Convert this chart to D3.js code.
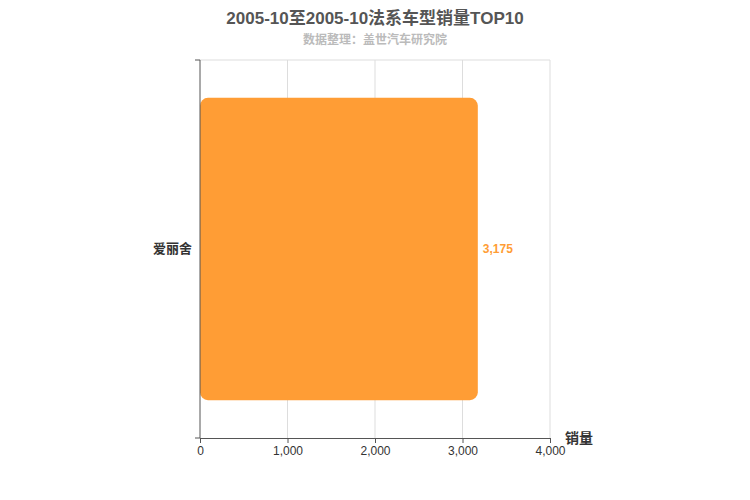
<!DOCTYPE html>
<html><head><meta charset="utf-8">
<script src="https://cdn.jsdelivr.net/npm/d3@7/dist/d3.min.js"></script>
<style>body{margin:0;background:#fff}text{font-family:Arial,"Liberation Sans","Noto Sans CJK SC",sans-serif}</style>
</head><body><svg id="c" width="750" height="500"></svg>
<script>
const categories = ["爱丽舍"];
const values = [3175];
const xTicks = [0, 1000, 2000, 3000, 4000];
const svg = d3.select("#c");
const L=200,R=550,T=60,B=438;
const x=d3.scaleLinear().domain([0,4000]).range([L,R]);
const y=d3.scaleBand().domain(categories).range([T,B]).paddingInner(0.2).paddingOuter(0.1);
svg.append("text").attr("x",375).attr("y",24).attr("text-anchor","middle").attr("font-size",17).attr("font-weight","bold").attr("fill","#555").text("2005-10至2005-10法系车型销量TOP10");
svg.append("text").attr("x",375).attr("y",44).attr("text-anchor","middle").attr("font-size",12).attr("font-weight","bold").attr("fill","#bbb").text("数据整理：盖世汽车研究院");
const g=svg.append("g");
xTicks.forEach(t=>{ if(t>0) g.append("line").attr("x1",x(t)).attr("x2",x(t)).attr("y1",T).attr("y2",B).attr("stroke","#ddd");});
g.append("line").attr("x1",L).attr("x2",R).attr("y1",T).attr("y2",T).attr("stroke","#ddd");
svg.selectAll("rect.b").data(values).join("rect").attr("class","b")
 .attr("x",x(0)).attr("y",(d,i)=>y(categories[i])).attr("width",d=>x(d)-x(0)).attr("height",y.bandwidth())
 .attr("rx",8).attr("fill","#ff9d35");
svg.selectAll("text.v").data(values).join("text").attr("class","v")
 .attr("x",d=>x(d)+5).attr("y",(d,i)=>y(categories[i])+y.bandwidth()/2+4)
 .attr("font-size",12).attr("font-weight","bold").attr("fill","#ff9d35").text(d=>d3.format(",")(d));
const xa=svg.append("g").attr("transform",`translate(0,${B})`).call(d3.axisBottom(x).tickValues(xTicks).tickFormat(d3.format(",")).tickSize(5));
xa.selectAll("text").attr("font-size",12).attr("fill","#333");
xa.selectAll("line,path").attr("stroke","#555");
const ya=svg.append("g").attr("transform",`translate(${L},0)`).call(d3.axisLeft(y).tickSize(0).tickPadding(8));
ya.select("path").attr("stroke","#555").attr("d",`M-5,${T}H0V${B}H-5`);
ya.selectAll("text").attr("font-size",13).attr("font-weight","bold").attr("fill","#333");
svg.append("text").attr("x",565).attr("y",443).attr("font-size",14).attr("font-weight","bold").attr("fill","#333").text("销量");
</script></body></html>
